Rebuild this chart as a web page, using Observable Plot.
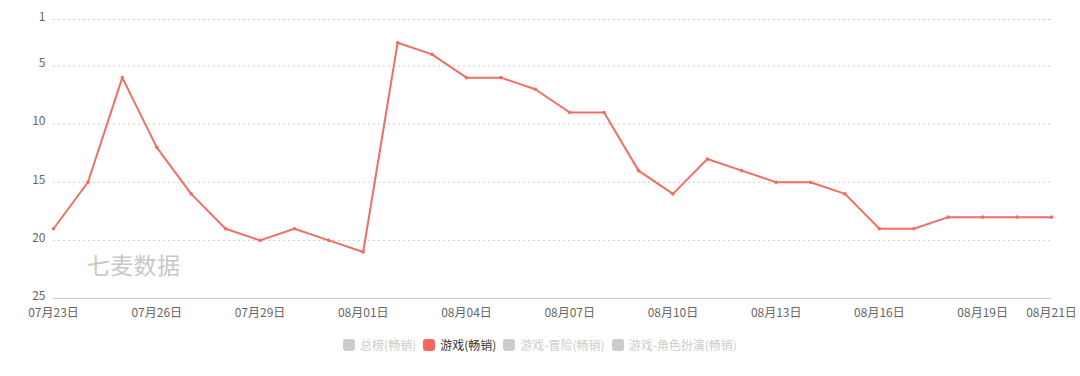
<!DOCTYPE html>
<html>
<head>
<meta charset="utf-8">
<script src="https://cdn.jsdelivr.net/npm/d3@7"></script>
<script src="https://cdn.jsdelivr.net/npm/@observablehq/plot@0.6"></script>
<style>
  html, body { margin: 0; padding: 0; background: #fff; }
  body { width: 1080px; height: 376px; position: relative; overflow: hidden;
         font-family: "Noto Sans CJK SC", "Noto Sans", sans-serif; }
  #chart { position: absolute; left: 0; top: 0; }
  #wm { position: absolute; left: 87px; top: 247px; font-size: 23px; color: #c8c8c8; letter-spacing: 0.3px; }
  #legend { position: absolute; left: 0; top: 336px; width: 1080px; display: flex; justify-content: center; gap: 7px; font-size: 12px; }
  .item { display: flex; align-items: center; gap: 5px; }
  .sw { width: 12px; height: 12px; border-radius: 3px; display: inline-block; }
</style>
</head>
<body>
<div id="chart"></div>
<div id="wm">七麦数据</div>
<div id="legend"></div>
<script>
const dates = ["2023-07-23","2023-07-24","2023-07-25","2023-07-26","2023-07-27","2023-07-28","2023-07-29","2023-07-30","2023-07-31","2023-08-01",
  "2023-08-02","2023-08-03","2023-08-04","2023-08-05","2023-08-06","2023-08-07","2023-08-08","2023-08-09","2023-08-10","2023-08-11",
  "2023-08-12","2023-08-13","2023-08-14","2023-08-15","2023-08-16","2023-08-17","2023-08-18","2023-08-19","2023-08-20","2023-08-21"];
const ranks = [19,15,6,12,16,19,20,19,20,21, 3,4,6,6,7,9,9,14,16,13, 14,15,15,16,19,19,18,18,18,18];
const xTickDates = ["2023-07-23","2023-07-26","2023-07-29","2023-08-01","2023-08-04","2023-08-07","2023-08-10","2023-08-13","2023-08-16","2023-08-19","2023-08-21"];
const xTickLabels = ["07月23日","07月26日","07月29日","08月01日","08月04日","08月07日","08月10日","08月13日","08月16日","08月19日","08月21日"];
const yTicks = [1,5,10,15,20,25];
const legendNames = ["总榜(畅销)","游戏(畅销)","游戏-冒险(畅销)","游戏-角色扮演(畅销)"];
const legendActive = [false,true,false,false];

const lineColor = "#ef6f66";
const data = dates.map((d,i) => ({date: new Date(d), rank: ranks[i]}));
const tickDates = xTickDates.map(d => new Date(d));
const labelMap = new Map(tickDates.map((d,i) => [+d, xTickLabels[i]]));

const chart = Plot.plot({
  width: 1080,
  height: 324,
  marginLeft: 53,
  marginRight: 29,
  marginTop: 19,
  marginBottom: 26,
  style: {fontFamily: '"Noto Sans CJK SC", "Noto Sans", sans-serif', fontSize: "12px", color: "#666", background: "#fff"},
  x: {type: "utc", domain: [new Date(dates[0]), new Date(dates[dates.length-1])]},
  y: {domain: [1, 25], reverse: true},
  marks: [
    Plot.gridY(yTicks.filter(t => t !== 25), {stroke: "#ccc", strokeOpacity: 1, strokeDasharray: "2,3", strokeWidth: 1}),
    Plot.ruleY([25], {stroke: "#c8c8c8", strokeWidth: 1}),
    Plot.axisY(yTicks, {tickSize: 0, tickPadding: 8, fill: "#666", fontSize: 12, label: null, dy: -2.5}),
    Plot.axisX(tickDates, {tickSize: 0, tickPadding: 10, fill: "#666", fontSize: 12, label: null, tickFormat: d => labelMap.get(+d)}),
    Plot.line(data, {x: "date", y: "rank", stroke: lineColor, strokeWidth: 2}),
    Plot.dot(data, {x: "date", y: "rank", r: 1.8, fill: lineColor})
  ]
});
document.getElementById("chart").appendChild(chart);

const lg = document.getElementById("legend");
legendNames.forEach((n,i) => {
  const it = document.createElement("div");
  it.className = "item";
  const sw = document.createElement("span");
  sw.className = "sw";
  sw.style.background = legendActive[i] ? "#f2685c" : "#ccc";
  const tx = document.createElement("span");
  tx.textContent = n;
  tx.style.color = legendActive[i] ? "#333" : "#ccc";
  it.appendChild(sw); it.appendChild(tx);
  lg.appendChild(it);
});
</script>
</body>
</html>
